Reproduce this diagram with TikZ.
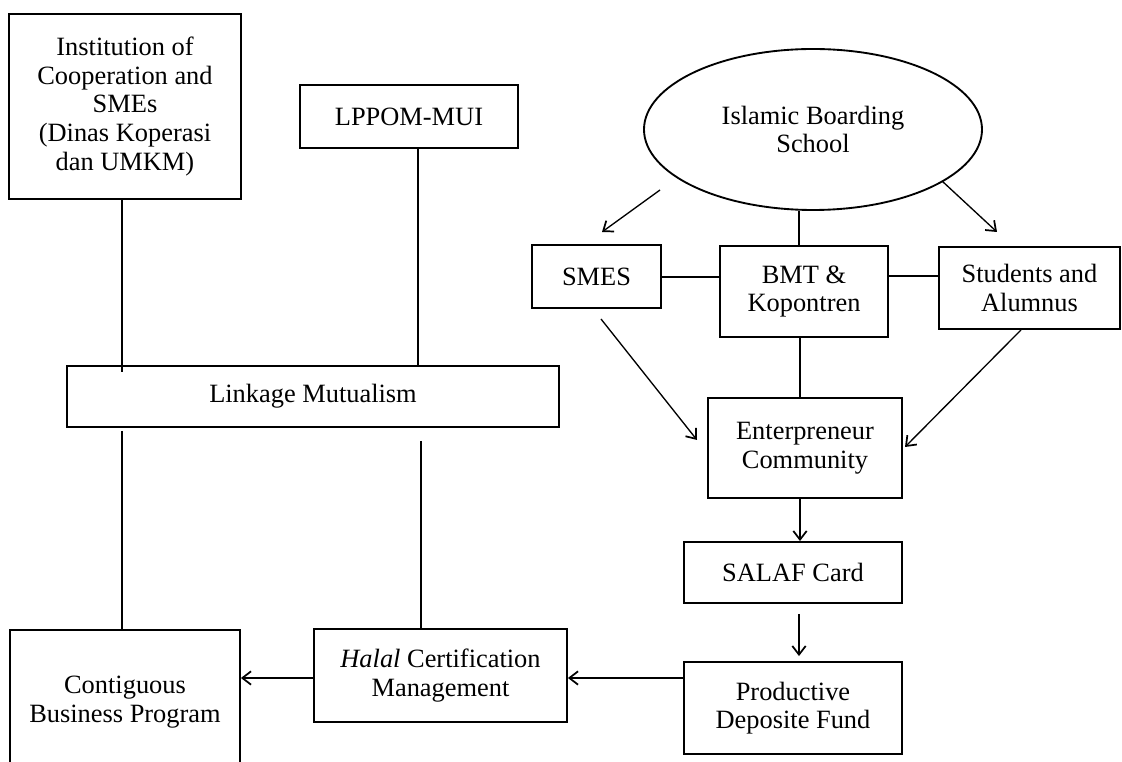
\documentclass[tikz,border=0pt]{standalone}
\usepackage{fontspec}
\setmainfont{Liberation Serif}
\usetikzlibrary{arrows.meta,shapes.geometric,calc}
\begin{document}
\begin{tikzpicture}[x=0.75pt,y=-0.75pt,
  txt/.style={align=center,font=\fontsize{19.8}{21.4}\selectfont},
  box/.style={txt,draw,line width=1.4pt,rectangle,inner sep=0pt},
  wh/.style 2 args={minimum width=#1*0.75pt,minimum height=#2*0.75pt},
  conn/.style={line width=1pt},
  arr/.style={conn,-{Straight Barb[length=6.5pt,width=10pt,line width=1.3pt]}}]
\clip (0,0) rectangle (1122,762);
\node[box,wh={232}{185}] (inst) at (125,106.5) {Institution of\\Cooperation and\\SMEs\\(Dinas Koperasi\\dan UMKM)};
\node[box,wh={218}{63}] (lppom) at (409,116.5) {LPPOM-MUI};
\node[txt,draw,ellipse,line width=1.4pt,inner sep=0pt,wh={338}{161}] (ibs) at (813,129.5) {Islamic Boarding\\School};
\node[box,wh={129}{63}] (smes) at (596.5,276.5) {SMES};
\node[box,wh={168}{91}] (bmt) at (804,291.5) {BMT \&\\Kopontren};
\node[box,wh={181}{82}] (stud) at (1029.5,288) {Students and\\Alumnus};
\node[box,wh={492}{61}] (link) at (313,396.5) {Linkage Mutualism};
\node[box,wh={194}{100}] (ent) at (805,448) {Enterpreneur\\Community};
\node[box,wh={218}{61}] (salaf) at (793,572.5) {SALAF Card};
\node[box,wh={218}{92}] (prod) at (793,708) {Productive\\Deposite Fund};
\node[box,wh={253}{93}] (halal) at (440.5,675.5) {\textit{Halal} Certification\\Management};
\node[box,wh={230}{144},anchor=north] (contig) at (125,629) {Contiguous\\Business Program};
% connectors
\coordinate (a1) at (122,372);
\draw[conn] (inst.south -| a1) -- (a1);
\coordinate (a2) at (122,431);
\draw[conn] (a2) -- (a2 |- contig.north);
\coordinate (a3) at (418,0);
\draw[conn] (lppom.south -| a3) -- (link.north -| a3);
\coordinate (a4) at (421,441);
\draw[conn] (a4) -- (a4 |- halal.north);
\coordinate (e1) at (660,190);
\coordinate (e2) at (602,232);
\draw[arr] (e1) -- (e2);
\coordinate (e3) at (942,181);
\coordinate (e4) at (997,232);
\draw[arr] (e3) -- (e4);
\coordinate (e5) at (799,0);
\draw[conn] (ibs.south -| e5) -- (bmt.north -| e5);
\coordinate (h1) at (0,277);
\draw[conn] (smes.east |- h1) -- (bmt.west |- h1);
\coordinate (h2) at (0,276);
\draw[conn] (bmt.east |- h2) -- (stud.west |- h2);
\coordinate (v1) at (800,0);
\draw[conn] (bmt.south -| v1) -- (ent.north -| v1);
\coordinate (s1) at (601,319);
\coordinate (s2) at (697,440);
\draw[arr] (s1) -- (s2);
\coordinate (t1) at (1021,0);
\coordinate (t2) at (905,447);
\draw[arr] (stud.south -| t1) -- (t2);
\draw[arr] (ent.south -| v1) -- (salaf.north -| v1);
\coordinate (v2) at (799,614);
\draw[arr,shorten >=3.75pt] (v2) -- (prod.north -| v2);
\coordinate (h3) at (0,678);
\draw[arr] (prod.west |- h3) -- (halal.east |- h3);
\draw[arr] (halal.west |- h3) -- (contig.east |- h3);
\end{tikzpicture}
\end{document}
